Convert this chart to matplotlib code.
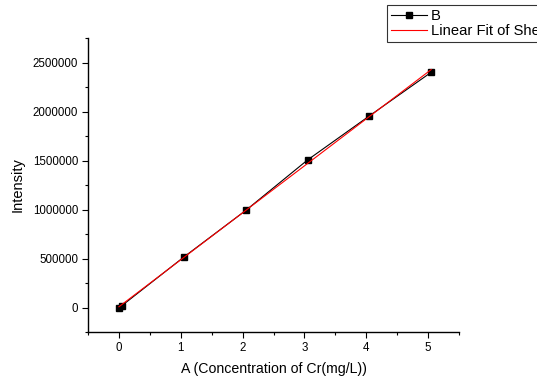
import numpy as np
import matplotlib
matplotlib.use("Agg")
import matplotlib.pyplot as plt
from matplotlib.patches import Rectangle
from matplotlib.ticker import MultipleLocator

plt.rcParams['font.family'] = ['Liberation Sans', 'DejaVu Sans']

# data
conc = [0.0, 0.05, 1.05, 2.05, 3.05, 4.05, 5.05]
intensity = [0, 20000, 515000, 990000, 1505000, 1955000, 2400000]

# linear fit of the series
slope, icpt = np.polyfit(conc, intensity, 1)
fit_x = np.array([conc[0], conc[-1]])
fit_y = slope * fit_x + icpt

W, H = 546, 380
fig = plt.figure(figsize=(W / 100, H / 100), dpi=100)
ax = fig.add_axes([88 / W, 1 - 332 / H, (459 - 88) / W, (332 - 38) / H])

ax.plot(conc, intensity, color='black', lw=0.8, marker='s', ms=4.5,
        mfc='black', mec='black', label='B')
ax.plot(fit_x, fit_y, color='red', lw=0.8, label='Linear Fit of Sheet1 B')

ax.set_xlim(-0.5, 5.5)
ax.set_ylim(-250000, 2750000)
ax.xaxis.set_major_locator(MultipleLocator(1))
ax.xaxis.set_minor_locator(MultipleLocator(0.5))
ax.yaxis.set_major_locator(MultipleLocator(500000))
ax.yaxis.set_minor_locator(MultipleLocator(250000))
ax.ticklabel_format(axis='y', style='plain')

for s in ('top', 'right'):
    ax.spines[s].set_visible(False)
for s in ('left', 'bottom'):
    ax.spines[s].set_linewidth(1.0)
ax.tick_params(which='major', direction='out', length=4, width=0.8, labelsize=8.3, pad=3)
ax.tick_params(which='minor', direction='out', length=2.5, width=0.8)

ax.set_xlabel('A (Concentration of Cr(mg/L))', fontsize=10.2, labelpad=6)
ax.set_ylabel('Intensity', fontsize=10.5, labelpad=6)

# legend runs off the right edge, as in the original export
leg = fig.legend(loc='upper left', bbox_to_anchor=(387 / W, 1 - 5 / H),
                 frameon=True, fancybox=False, fontsize=10.6, handlelength=2.45,
                 borderpad=0.25, labelspacing=0.12, handletextpad=0.3,
                 borderaxespad=0)
leg.get_frame().set_edgecolor('black')
leg.get_frame().set_linewidth(0.8)

# the exported picture is blank past x = 536 px
fig.add_artist(Rectangle((537 / W, 0), 1, 1, transform=fig.transFigure,
                         facecolor='white', edgecolor='none', zorder=10))

fig.savefig('out.png', dpi=100)
